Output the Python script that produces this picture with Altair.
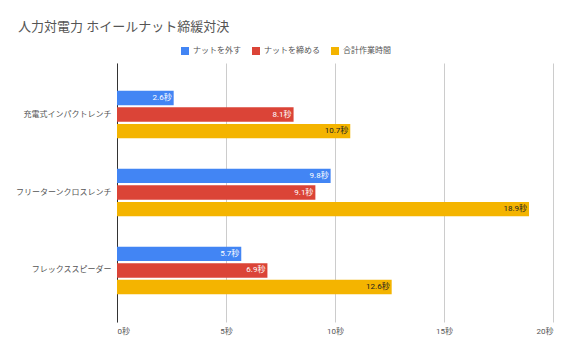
import altair as alt
import pandas as pd

tools = ["充電式インパクトレンチ", "フリーターンクロスレンチ", "フレックススピーダー"]
series = ["ナットを外す", "ナットを締める", "合計作業時間"]
remove_vals = [2.6, 9.8, 5.7]
tighten_vals = [8.1, 9.1, 6.9]
total_vals = [10.7, 18.9, 12.6]
colors = ["#4285F4", "#DB4437", "#F4B400"]
x_ticks = [0, 5, 10, 15, 20]

rows = []
for i, t in enumerate(tools):
    for s, vals in zip(series, [remove_vals, tighten_vals, total_vals]):
        rows.append({"tool": t, "series": s, "value": vals[i], "label": f"{vals[i]}秒"})
df = pd.DataFrame(rows)

FONT = "Roboto, 'Noto Sans CJK JP', sans-serif"

base = alt.Chart(df).encode(
    y=alt.Y("tool:N", sort=tools, title=None,
            scale=alt.Scale(paddingInner=0.372, paddingOuter=0.3465),
            axis=alt.Axis(labelFontSize=8, labelColor="#555555", labelFont=FONT,
                          ticks=False, labelPadding=6, domainColor="#333333",
                          domainWidth=1, grid=False, labelLimit=200)),
    yOffset=alt.YOffset("series:N", sort=series,
                        scale=alt.Scale(paddingInner=0.13, paddingOuter=0.04)),
)

bars = base.mark_bar(cornerRadius=0).encode(
    x=alt.X("value:Q", title=None,
            scale=alt.Scale(domain=[0, 20], nice=False),
            axis=alt.Axis(values=x_ticks, labelExpr="datum.value + '秒'",
                          labelFontSize=8, labelColor="#555555", labelFont=FONT,
                          ticks=False, domain=False, gridColor="#cccccc",
                          labelPadding=5)),
    color=alt.Color("series:N", sort=series,
                    scale=alt.Scale(domain=series, range=colors),
                    legend=alt.Legend(title=None, orient="none", direction="horizontal",
                                      legendX=64, legendY=-16, symbolType="square",
                                      symbolSize=64, symbolStrokeWidth=0,
                                      labelFontSize=8, labelColor="#555555",
                                      labelFont=FONT, columnPadding=11,
                                      labelOffset=4, padding=0)),
)

texts = base.mark_text(align="right", baseline="middle", dx=-2, fontSize=8, font=FONT).encode(
    x="value:Q",
    text="label:N",
    color=alt.condition(alt.datum.series == "合計作業時間",
                        alt.value("#222222"), alt.value("#ffffff")),
)

chart = alt.layer(bars, texts).properties(
    width=436, height=259,
    title=alt.TitleParams("人力対電力 ホイールナット締緩対決", anchor="start", frame="group",
                          dx=-99, fontSize=13, font=FONT, fontWeight="normal",
                          color="#555555", offset=13),
    padding={"left": 117, "top": 63, "right": 17, "bottom": 30},
    autosize=alt.AutoSizeParams(type="none"),
).configure_view(stroke=None)

chart.save("out.html", embed_options={"renderer": "svg", "actions": False})
